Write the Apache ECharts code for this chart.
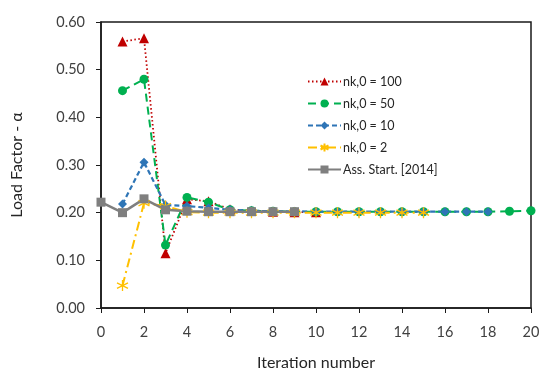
<!DOCTYPE html>
<html>
<head>
<meta charset="utf-8">
<script src="https://cdn.jsdelivr.net/npm/echarts@6/dist/echarts.min.js"></script>
<style>
  html, body { margin: 0; padding: 0; background: #fff; }
  #chart { width: 540px; height: 371px; }
</style>
</head>
<body>
<div id="chart"></div>
<script>
// Load factor per iteration for different initial nk,0 values
const seriesNames = ['nk,0 = 100', 'nk,0 = 50', 'nk,0 = 10', 'nk,0 = 2', 'Ass. Start. [2014]'];

const nk100Start = 1;
const nk100 = [0.559, 0.566, 0.115, 0.228, 0.224, 0.207, 0.204, 0.202, 0.201, 0.201];

const nk50Start = 1;
const nk50 = [0.456, 0.480, 0.132, 0.232, 0.222, 0.206, 0.204, 0.203, 0.202, 0.202,
              0.202, 0.202, 0.202, 0.202, 0.202, 0.202, 0.202, 0.202, 0.203, 0.204];

const nk10Start = 1;
const nk10 = [0.218, 0.306, 0.216, 0.214, 0.210, 0.206, 0.204, 0.203, 0.203, 0.202,
              0.202, 0.202, 0.202, 0.202, 0.202, 0.202, 0.202, 0.202];

const nk2Start = 1;
const nk2 = [0.047, 0.220, 0.214, 0.201, 0.200, 0.200, 0.200, 0.200, 0.200, 0.200,
             0.200, 0.200, 0.200, 0.200, 0.200];

const assStart = 0;
const ass2014 = [0.222, 0.200, 0.229, 0.206, 0.203, 0.202, 0.202, 0.202, 0.202, 0.202];

const xTicks = [0, 2, 4, 6, 8, 10, 12, 14, 16, 18, 20];
const yTicks = [0.0, 0.1, 0.2, 0.3, 0.4, 0.5, 0.6];

function pairs(start, values) {
  return values.map((v, i) => [start + i, v]);
}

const asterisk = 'path://M5,0 L5,10 M0.7,2.5 L9.3,7.5 M0.7,7.5 L9.3,2.5';
const FONT = 'Lato, "Liberation Sans", sans-serif';

const chart = echarts.init(document.getElementById('chart'), null, { renderer: 'canvas' });

chart.setOption({
  animation: false,
  backgroundColor: '#ffffff',
  textStyle: { fontFamily: FONT },
  grid: {
    left: 101, right: 9, top: 22, bottom: 63,
    containLabel: false, outerBoundsMode: 'none',
    show: true, borderColor: '#1a1a1a', borderWidth: 1.5
  },
  legend: {
    orient: 'vertical',
    left: 302, top: 70,
    itemGap: 9,
    itemWidth: 33, itemHeight: 10,
    textStyle: { fontSize: 12.5, color: '#262626', fontFamily: FONT, padding: [0, 0, 0, -3] },
    data: seriesNames
  },
  xAxis: {
    type: 'value',
    min: 0, max: 20, interval: 2,
    name: 'Iteration number',
    nameLocation: 'middle', nameGap: 47,
    nameTextStyle: { fontSize: 16, color: '#262626' },
    axisLine: { lineStyle: { color: '#1a1a1a', width: 1.5 } },
    axisTick: { show: true, inside: false, length: 5, lineStyle: { color: '#1a1a1a' } },
    axisLabel: {
      fontSize: 14.5, color: '#404040', margin: 17,
      formatter: v => xTicks.includes(v) ? String(v) : ''
    },
    splitLine: { show: false }
  },
  yAxis: {
    type: 'value',
    min: 0, max: 0.6, interval: 0.1,
    name: 'Load Factor - \u03b1',
    nameLocation: 'middle', nameGap: 76,
    nameTextStyle: { fontSize: 16, color: '#262626' },
    axisLine: { show: true, lineStyle: { color: '#1a1a1a', width: 1.5 } },
    axisTick: { show: true, inside: false, length: 5, lineStyle: { color: '#1a1a1a' } },
    axisLabel: {
      fontSize: 14.5, color: '#404040', margin: 16,
      formatter: v => yTicks.some(t => Math.abs(t - v) < 1e-9) ? v.toFixed(2) : ''
    },
    splitLine: { show: false }
  },
  series: [
    {
      name: seriesNames[0], type: 'line',
      data: pairs(nk100Start, nk100),
      symbol: 'triangle', symbolSize: 10,
      itemStyle: { color: '#C00000' },
      lineStyle: { color: '#C00000', width: 1.8, type: [1.5, 2.5] }
    },
    {
      name: seriesNames[1], type: 'line',
      data: pairs(nk50Start, nk50),
      symbol: 'circle', symbolSize: 9,
      itemStyle: { color: '#00B050' },
      lineStyle: { color: '#00B050', width: 2, type: [8, 5] }
    },
    {
      name: seriesNames[2], type: 'line',
      data: pairs(nk10Start, nk10),
      symbol: 'diamond', symbolSize: 9,
      itemStyle: { color: '#2E75B6' },
      lineStyle: { color: '#2E75B6', width: 2.2, type: [5, 3] }
    },
    {
      name: seriesNames[3], type: 'line',
      data: pairs(nk2Start, nk2),
      symbol: asterisk, symbolSize: 11,
      itemStyle: { color: '#FFC000', borderColor: '#FFC000', borderWidth: 1.3 },
      lineStyle: { color: '#FFC000', width: 2, type: [9, 4, 2, 4] }
    },
    {
      name: seriesNames[4], type: 'line',
      data: pairs(assStart, ass2014),
      symbol: 'rect', symbolSize: 9,
      itemStyle: { color: '#7F7F7F' },
      lineStyle: { color: '#7F7F7F', width: 2.5 }
    }
  ]
});
</script>
</body>
</html>
